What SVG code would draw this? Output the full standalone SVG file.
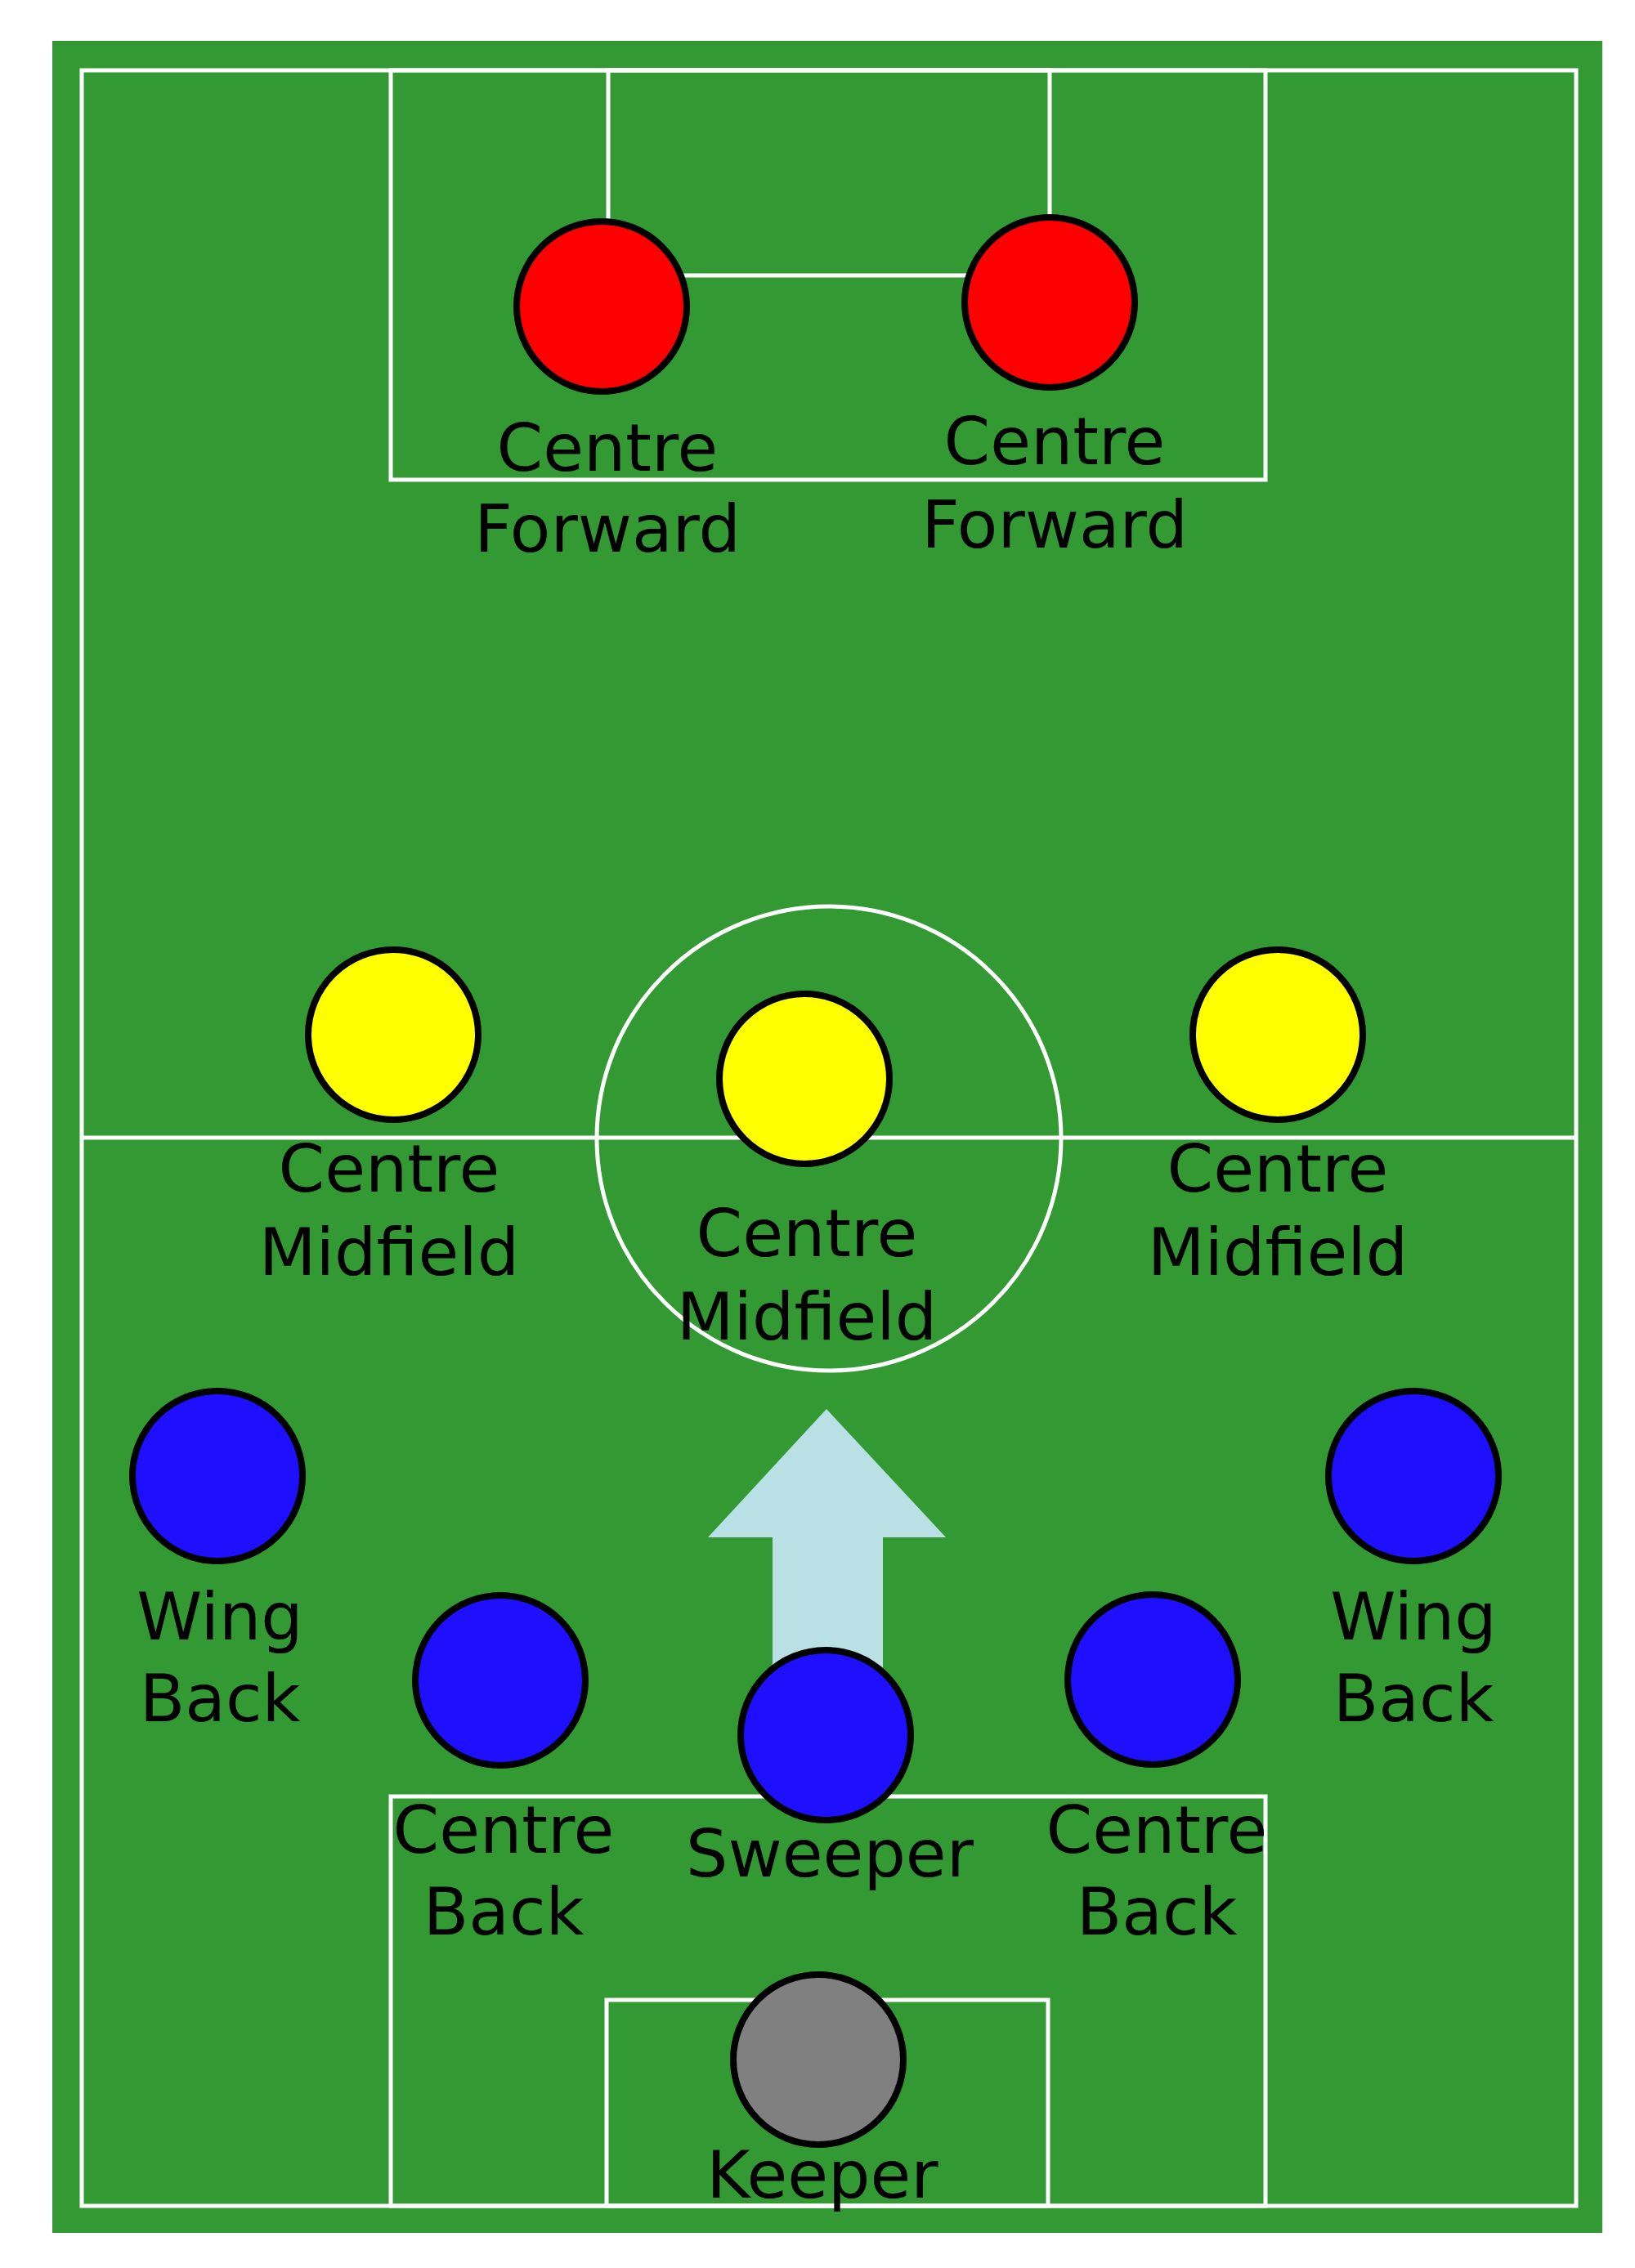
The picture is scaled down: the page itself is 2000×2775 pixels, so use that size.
<svg xmlns="http://www.w3.org/2000/svg" width="2000" height="2775" viewBox="0 0 2000 2775">
<style>
.line{fill:none;stroke:#ffffff;stroke-width:5}
.p{stroke:#000000;stroke-width:8}
.fw{fill:#ff0000}
.mf{fill:#ffff00}
.df{fill:#1f0fff}
.gk{fill:#808080}
.lbl{font-family:"DejaVu Sans",sans-serif;font-size:81px;fill:#000000;text-anchor:middle}
</style>
<rect x="0" y="0" width="2000" height="2775" fill="#ffffff"/>
<g id="pitch">
<rect x="64" y="50" width="1896" height="2682" fill="#339933"/>
<rect class="line" x="100" y="86" width="1828" height="2613"/>
<line class="line" x1="100" y1="1392" x2="1928" y2="1392"/>
<circle class="line" cx="1014" cy="1393" r="284"/>
<rect class="line" x="478" y="86" width="1070" height="501"/>
<rect class="line" x="744" y="86" width="540" height="251"/>
<rect class="line" x="478" y="2198" width="1070" height="501"/>
<rect class="line" x="742" y="2447" width="540" height="252"/>
</g>
<g id="connectors">
<polygon id="advance-arrow" points="1011,1724 1157,1881 1080,1881 1080,2100 945,2100 945,1881 866,1881" fill="#b9e0e5"/>
</g>
<g id="cf-left"><circle class="p fw" cx="736" cy="375" r="104"/><text class="lbl" x="743" y="576">Centre</text><text class="lbl" x="743" y="675">Forward</text></g>
<g id="cf-right"><circle class="p fw" cx="1284" cy="370" r="104"/><text class="lbl" x="1290" y="568">Centre</text><text class="lbl" x="1290" y="670">Forward</text></g>
<g id="cm-left"><circle class="p mf" cx="481" cy="1266" r="104"/><text class="lbl" x="476" y="1458">Centre</text><text class="lbl" x="476" y="1560">Midfield</text></g>
<g id="cm-centre"><circle class="p mf" cx="984" cy="1320" r="104"/><text class="lbl" x="987" y="1537">Centre</text><text class="lbl" x="987" y="1639">Midfield</text></g>
<g id="cm-right"><circle class="p mf" cx="1563" cy="1266" r="104"/><text class="lbl" x="1563" y="1458">Centre</text><text class="lbl" x="1563" y="1560">Midfield</text></g>
<g id="wb-left"><circle class="p df" cx="266" cy="1806" r="104"/><text class="lbl" x="269" y="2006">Wing</text><text class="lbl" x="269" y="2106">Back</text></g>
<g id="wb-right"><circle class="p df" cx="1729" cy="1806" r="104"/><text class="lbl" x="1729" y="2006">Wing</text><text class="lbl" x="1729" y="2106">Back</text></g>
<g id="cb-left"><circle class="p df" cx="612" cy="2056" r="104"/><text class="lbl" x="616" y="2267">Centre</text><text class="lbl" x="616" y="2367">Back</text></g>
<g id="sweeper"><circle class="p df" cx="1010" cy="2123" r="104"/><text class="lbl" x="1015" y="2296">Sweeper</text></g>
<g id="cb-right"><circle class="p df" cx="1410" cy="2055" r="104"/><text class="lbl" x="1415" y="2267">Centre</text><text class="lbl" x="1415" y="2367">Back</text></g>
<g id="keeper"><circle class="p gk" cx="1001" cy="2520" r="104"/><text class="lbl" x="1006" y="2689">Keeper</text></g>
</svg>
